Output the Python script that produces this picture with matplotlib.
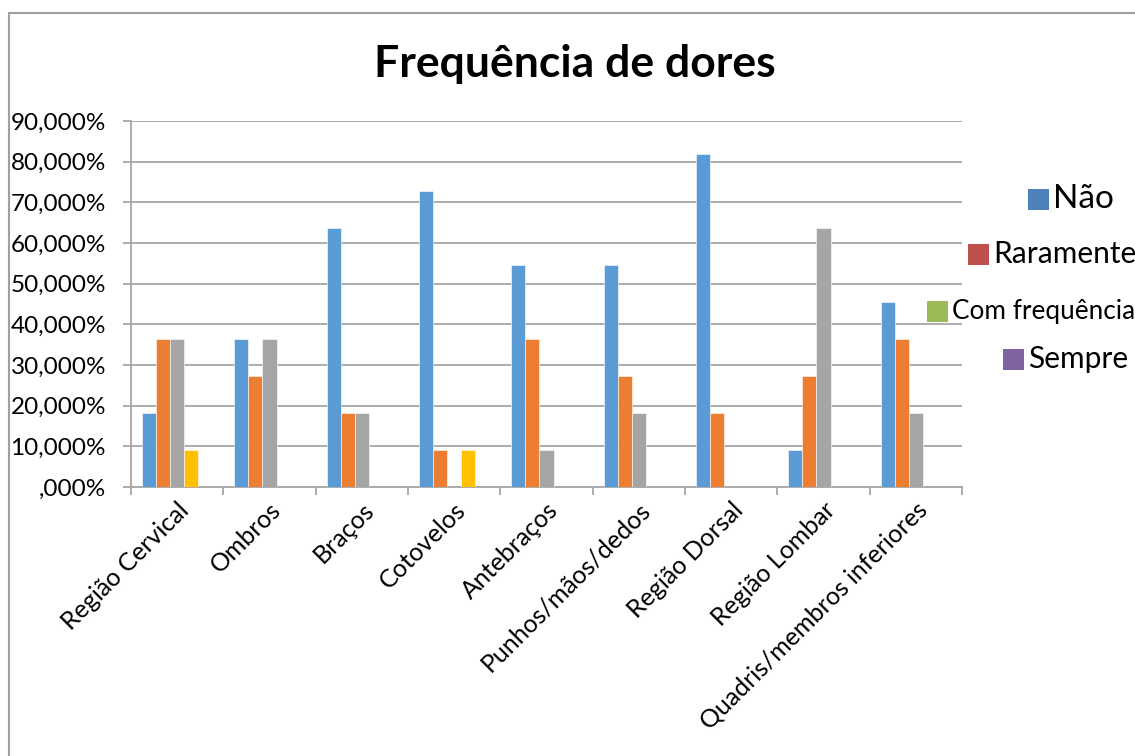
import matplotlib.pyplot as plt
import matplotlib.transforms as mtransforms
import numpy as np
from matplotlib.patches import Rectangle
from matplotlib.ticker import FuncFormatter

plt.rcParams['font.family'] = ['Lato', 'DejaVu Sans']

categorias = ['Região Cervical', 'Ombros', 'Braços', 'Cotovelos', 'Antebraços',
              'Punhos/mãos/dedos', 'Região Dorsal', 'Região Lombar',
              'Quadris/membros inferiores']
nao = [18.18, 36.36, 63.64, 72.73, 54.55, 54.55, 81.82, 9.09, 45.45]
raramente = [36.36, 27.27, 18.18, 9.09, 36.36, 27.27, 18.18, 27.27, 36.36]
com_frequencia = [36.36, 36.36, 18.18, 0, 9.09, 18.18, 0, 63.64, 18.18]
sempre = [9.09, 0, 0, 9.09, 0, 0, 0, 0, 0]

series = [nao, raramente, com_frequencia, sempre]
cores_barras = ['#5B9BD5', '#ED7D31', '#A5A5A5', '#FFC000']

legenda = ['Não', 'Raramente', 'Com frequência', 'Sempre']
cores_legenda = ['#4F81BD', '#C0504D', '#9BBB59', '#8064A2']

fig = plt.figure(figsize=(11.35, 7.56), dpi=100)
ax = fig.add_axes([131 / 1135, 1 - 487 / 756, 831 / 1135, 366 / 756])

x = np.arange(len(categorias))
w = 0.152
# Excel reserves room for 5 series, so the 4 drawn bars sit left of centre
for i, (vals, c) in enumerate(zip(series, cores_barras)):
    ax.bar(x + (i - 2) * w, vals, width=w, color=c, align='center',
           edgecolor='white', linewidth=0.4, zorder=3)

ax.set_xlim(-0.5, len(categorias) - 0.5)
ax.set_ylim(0, 90)
ax.set_yticks(np.arange(0, 91, 10))
ax.yaxis.set_major_formatter(FuncFormatter(
    lambda v, p: ',000%' if v == 0 else f'{int(v)},000%'))
ax.grid(axis='y', color='#A6A6A6', linewidth=1.3, zorder=0)

ax.set_xticks(x)
ax.set_xticklabels(categorias, rotation=45, ha='right', rotation_mode='anchor',
                   fontsize=18)
shift = mtransforms.ScaledTranslation(-5 / 100, 0, fig.dpi_scale_trans)
for lbl in ax.get_xticklabels():
    lbl.set_transform(lbl.get_transform() + shift)
ax.set_xticks(np.arange(-0.5, len(categorias)), minor=True)
ax.tick_params(axis='x', which='major', length=0, pad=8)
ax.tick_params(axis='x', which='minor', length=6, color='#A6A6A6', width=1.3)
ax.tick_params(axis='y', length=6, color='#A6A6A6', width=1.3, labelsize=17.5,
               pad=12)

for s in ['top', 'right']:
    ax.spines[s].set_visible(False)
for s in ['left', 'bottom']:
    ax.spines[s].set_color('#A6A6A6')
    ax.spines[s].set_linewidth(1.3)

fig.text(575 / 1135, 1 - 64 / 756, 'Frequência de dores', fontsize=32,
         fontweight='bold', ha='center', va='center')

# legend drawn by hand: entries have different sizes in the original
leg_pos = [(1028, 199, 24), (968, 254, 21.5), (927, 311, 18.8), (1003, 359, 21.5)]
for (lx, ly, fs), lab, c in zip(leg_pos, legenda, cores_legenda):
    sq = 21
    fig.add_artist(Rectangle((lx / 1135, 1 - (ly + sq / 2) / 756),
                             sq / 1135, sq / 756, transform=fig.transFigure,
                             facecolor=c, edgecolor='none'))
    fig.text((lx + sq + 4) / 1135, 1 - ly / 756, lab, fontsize=fs,
             ha='left', va='center')

# chart frame (cut off at right and bottom)
fig.add_artist(Rectangle((9 / 1135, -0.1), 1.2, 1 - 13 / 756 + 0.1,
                         transform=fig.transFigure, fill=False,
                         edgecolor='#A0A0A0', linewidth=1.5))

fig.savefig('out.png', dpi=100)
